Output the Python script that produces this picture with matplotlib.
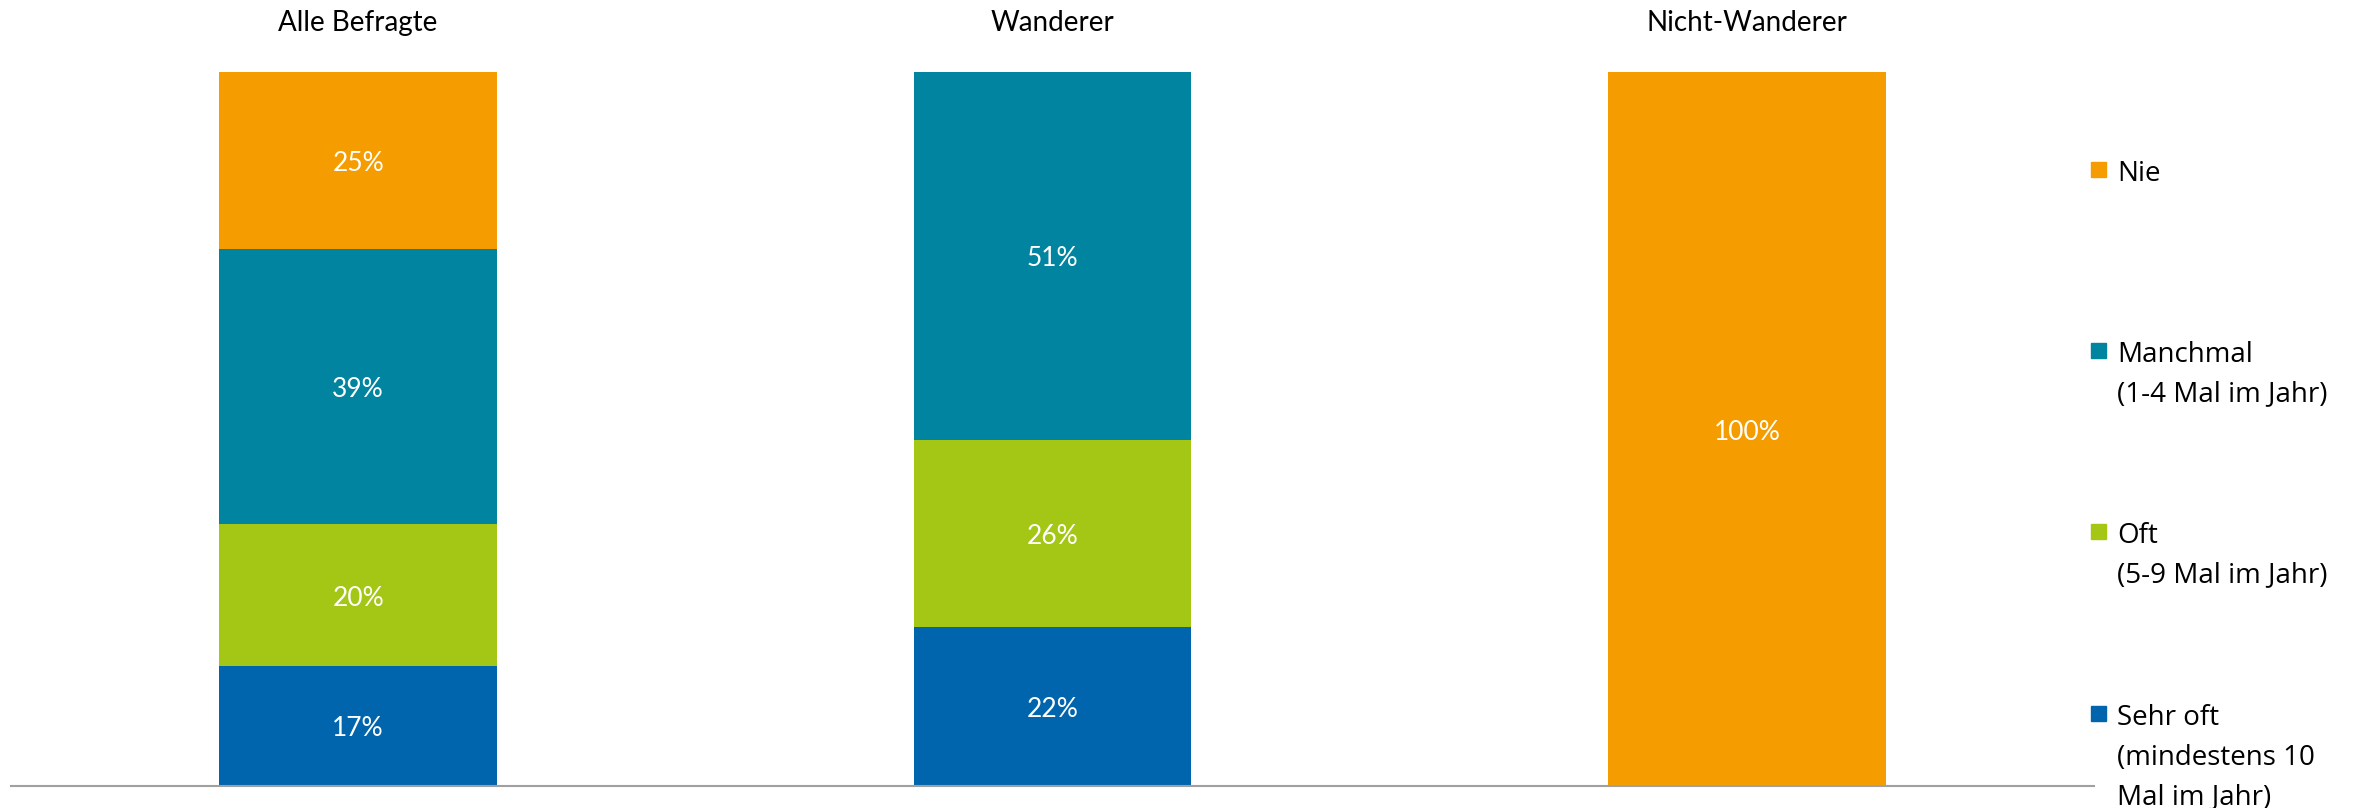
import matplotlib
matplotlib.use("Agg")
import matplotlib.pyplot as plt
from matplotlib.patches import Rectangle
from matplotlib.transforms import offset_copy
import numpy as np

groups = ["Alle Befragte", "Wanderer", "Nicht-Wanderer"]
series = ["Sehr oft", "Oft", "Manchmal", "Nie"]
legend_labels = ["Sehr oft\n(mindestens 10\nMal im Jahr)", "Oft\n(5-9 Mal im Jahr)",
                 "Manchmal\n(1-4 Mal im Jahr)", "Nie"]
sehr_oft = [17, 22, 0]
oft = [20, 26, 0]
manchmal = [39, 51, 0]
nie = [25, 0, 100]
colors = ["#0065AD", "#A4C615", "#00849F", "#F59D00"]

values = np.array([sehr_oft, oft, manchmal, nie], dtype=float)
totals = values.sum(axis=0)
shares = values / totals * 100

W, H = 2362, 808
fig = plt.figure(figsize=(23.62, 8.08), dpi=100)
ax = fig.add_axes([11 / W, 1 - 786 / H, 2083 / W, (786 - 72) / H])
x = np.arange(len(groups))
label_tr = offset_copy(ax.transData, fig=fig, x=0, y=-3, units="dots")
bottom = np.zeros(len(groups))
for i, s in enumerate(series):
    ax.bar(x, shares[i], bottom=bottom, width=0.4, color=colors[i], edgecolor="none")
    for j in range(len(groups)):
        if values[i, j] > 0:
            ax.text(x[j], bottom[j] + shares[i, j] / 2, f"{int(values[i, j])}%",
                    ha="center", va="center", color="white", fontsize=19, family="Lato",
                    transform=label_tr)
    bottom += shares[i]

ax.set_xlim(-0.5, 2.5)
ax.set_ylim(0, 100)
for sp in ["top", "right", "left"]:
    ax.spines[sp].set_visible(False)
ax.spines["bottom"].set_color("#a0a0a0")
ax.spines["bottom"].set_linewidth(1.5)
ax.set_xticks([])
ax.set_yticks([])

for j, g in enumerate(groups):
    ax.text(x[j], 1.069, g, transform=ax.get_xaxis_transform(), ha="center", va="center",
            fontsize=20, family="Lato", color="black")

# legend (manual)
legend_y = [714, 532, 351, 170]
for i in range(len(series)):
    yc = 1 - legend_y[i] / H
    fig.patches.append(Rectangle((2091 / W, yc - 7 / H), 15 / W, 15 / H,
                                 transform=fig.transFigure, color=colors[i], figure=fig))
    fig.text(2117 / W, yc + 10 / H, legend_labels[i], ha="left", va="top",
             fontsize=20, family="Open Sans", linespacing=1.55, color="black")

fig.savefig("out.png", dpi=100)
